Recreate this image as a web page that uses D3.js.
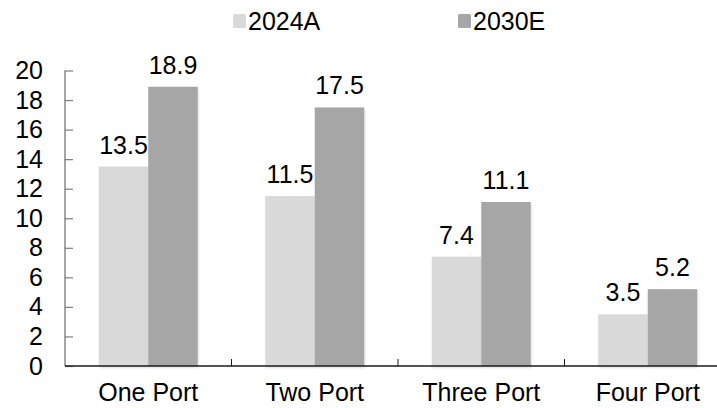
<!DOCTYPE html>
<html>
<head>
<meta charset="utf-8">
<script src="https://cdn.jsdelivr.net/npm/d3@7"></script>
<style>
  html, body { margin: 0; padding: 0; background: #fff; }
  svg { display: block; font-family: "Liberation Sans", Arial, sans-serif; }
</style>
</head>
<body>
<svg id="chart" width="717" height="408"></svg>
<script>
// Port-count categories and the two series (2024 actual, 2030 estimate)
const categories = ["One Port", "Two Port", "Three Port", "Four Port"];
const seriesNames = ["2024A", "2030E"];
const values2024A = [13.5, 11.5, 7.4, 3.5];
const values2030E = [18.9, 17.5, 11.1, 5.2];
const yTicks = [0, 2, 4, 6, 8, 10, 12, 14, 16, 18, 20];

const seriesValues = [values2024A, values2030E];
const colors = ["#d9d9d9", "#a6a6a6"];

const svg = d3.select("#chart");
const fontSize = 25;

const x0 = d3.scaleBand().domain(categories).range([65, 731]).padding(0);
const barW = 49.5;
const x1 = d3.scaleBand().domain(seriesNames)
  .range([x0.bandwidth() / 2 - barW, x0.bandwidth() / 2 + barW]).padding(0);
const y = d3.scaleLinear().domain([0, 20]).range([366, 70.5]);

// soft shadow under the bars
const defs = svg.append("defs");
const f = defs.append("filter").attr("id", "shadow")
  .attr("x", "-10%").attr("y", "-10%").attr("width", "130%").attr("height", "130%");
f.append("feDropShadow").attr("dx", 1).attr("dy", 2).attr("stdDeviation", 1)
  .attr("flood-color", "#000").attr("flood-opacity", 0.12);

// bars
const groups = svg.append("g").selectAll("g")
  .data(categories)
  .join("g")
  .attr("transform", d => `translate(${x0(d)},0)`);

groups.selectAll("rect")
  .data((d, i) => seriesNames.map((s, j) => ({ s, v: seriesValues[j][i], j })))
  .join("rect")
  .attr("x", d => x1(d.s))
  .attr("y", d => y(d.v))
  .attr("width", x1.bandwidth())
  .attr("height", d => y(0) - y(d.v))
  .attr("fill", d => colors[d.j])
  .attr("filter", "url(#shadow)");

// value labels
groups.selectAll("text")
  .data((d, i) => seriesNames.map((s, j) => ({ s, v: seriesValues[j][i], j })))
  .join("text")
  .attr("x", d => x1(d.s) + x1.bandwidth() / 2)
  .attr("y", d => y(d.v) - 13)
  .attr("text-anchor", "middle")
  .attr("font-size", fontSize)
  .attr("fill", "#000")
  .text(d => d.v.toFixed(1));

// y axis
const yAxis = svg.append("g")
  .attr("transform", "translate(65,0)")
  .call(d3.axisLeft(y).tickValues(yTicks).tickSize(0).tickPadding(0).tickFormat(d3.format("d")));
yAxis.select(".domain").remove();
yAxis.selectAll(".tick text")
  .attr("x", -22)
  .attr("font-size", fontSize)
  .attr("fill", "#000")
  .attr("font-family", "Liberation Sans, Arial, sans-serif");
yAxis.selectAll(".tick line")
  .attr("x1", 0).attr("x2", 8)
  .attr("stroke", "#7f7f7f").attr("stroke-width", 1.2);
yAxis.append("line")
  .attr("x1", 0).attr("x2", 0)
  .attr("y1", y(20)).attr("y2", y(0))
  .attr("stroke", "#6b6b6b").attr("stroke-width", 1.2);

// x axis
const xAxis = svg.append("g")
  .attr("transform", `translate(0,${y(0)})`)
  .call(d3.axisBottom(x0).tickSize(0).tickPadding(0));
xAxis.select(".domain").remove();
xAxis.selectAll(".tick text")
  .attr("y", 17)
  .attr("font-size", fontSize)
  .attr("fill", "#000")
  .attr("font-family", "Liberation Sans, Arial, sans-serif");
xAxis.append("line")
  .attr("x1", 65).attr("x2", 717).attr("y1", 0).attr("y2", 0)
  .attr("stroke", "#1a1a1a").attr("stroke-width", 1.3);
xAxis.selectAll(".sep")
  .data(categories.slice(1))
  .join("line")
  .attr("class", "sep")
  .attr("x1", d => x0(d)).attr("x2", d => x0(d))
  .attr("y1", 0).attr("y2", -7)
  .attr("stroke", "#1a1a1a").attr("stroke-width", 1);

// legend
const legendX = [233, 458];
const legend = svg.append("g").selectAll("g")
  .data(seriesNames)
  .join("g")
  .attr("transform", (d, i) => `translate(${legendX[i]},0)`);
legend.append("rect")
  .attr("x", 0).attr("y", 14)
  .attr("width", 13).attr("height", 14)
  .attr("rx", 1.5)
  .attr("fill", (d, i) => colors[i]);
legend.append("text")
  .attr("x", 15).attr("y", 30)
  .attr("font-size", fontSize)
  .attr("fill", "#000")
  .text(d => d);
</script>
</body>
</html>
